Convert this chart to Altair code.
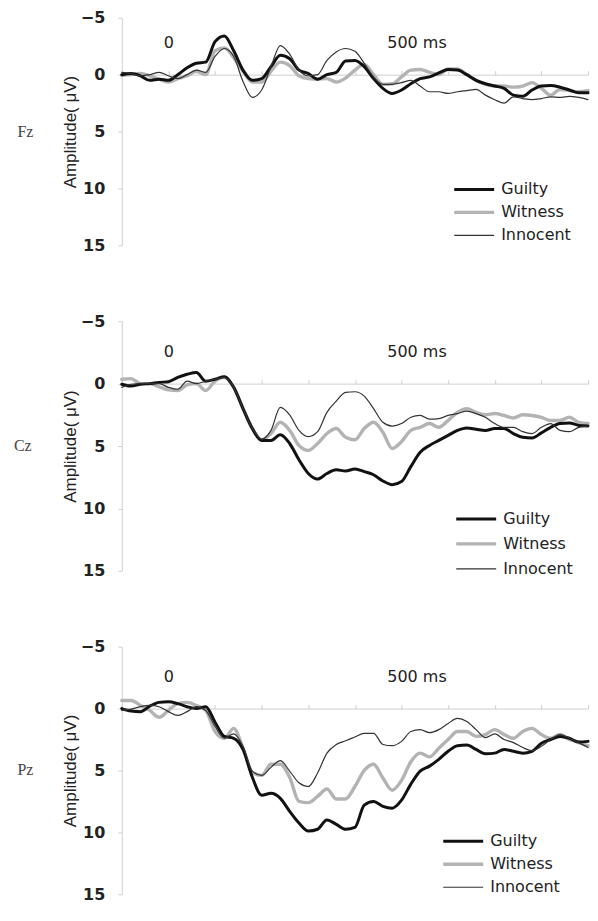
import altair as alt
import pandas as pd

times = [-100, -80, -60, -40, -20, 0, 20, 40, 60, 80,
         100, 120, 140, 160, 180, 200, 220, 240, 260, 280,
         300, 320, 340, 360, 380, 400, 420, 440, 460, 480,
         500, 520, 540, 560, 580, 600, 620, 640, 660, 680,
         700, 720, 740, 760, 780, 800, 820, 840, 860, 880, 900]

conditions = ["Guilty", "Witness", "Innocent"]
line_colors = ["#111111", "#b3b3b3", "#333333"]
line_widths = [3.0, 3.4, 1.2]

fz_guilty = [0, -0.1, 0.1, 0.5, 0.4, 0.5, 0, -0.6, -1.0, -1.1,
             -2.9, -3.4, -2.1, -0.4, 0.5, 0.35, -0.7, -1.7, -1.4, -0.4,
             -0.1, 0.4, 0, -0.2, -1.2, -1.25, -0.7, 0.35, 1.2, 1.65,
             1.35, 0.8, 0.35, 0.2, -0.15, -0.45, -0.4, 0, 0.5, 0.8,
             1.0, 1.2, 1.8, 1.9, 1.35, 1.0, 0.95, 1.1, 1.35, 1.6, 1.6]
fz_witness = [0.05, 0, -0.1, 0.1, 0.4, 0.65, 0.35, 0.1, -0.3, 0,
              -2.1, -2.35, -1.5, -0.3, 0.65, 0.65, -0.3, -1.1, -0.8, 0.1,
              0.35, 0.4, 0.35, 0.65, 0.3, -0.4, -0.9, 0, 0.85, 0.8,
              0.2, -0.4, -0.45, -0.2, 0, -0.5, -0.5, 0, 0.5, 0.85,
              1.0, 1.0, 1.1, 1.0, 0.7, 1.2, 1.8, 1.3, 1.4, 1.5, 1.4]
fz_innocent = [-0.2, -0.1, 0.1, 0, -0.2, 0.1, 0.35, 0, -0.4, -0.2,
               -1.6, -2.3, -1.6, 0.6, 2.0, 1.35, -0.7, -2.55, -1.8, -0.4,
               0.1, 0, -1.25, -2.0, -2.3, -2.05, -1.0, 0.2, 0.85, 0.85,
               0.7, 0.5, 1.0, 1.5, 1.5, 1.65, 1.5, 1.4, 1.3, 1.8,
               2.2, 2.5, 1.95, 2.1, 2.2, 2.1, 1.95, 2.0, 1.9, 2.0, 2.2]

cz_guilty = [0.05, 0.2, 0.05, 0, -0.1, -0.15, -0.5, -0.75, -0.9, -0.2,
             -0.35, -0.55, 0.3, 2.0, 3.6, 4.55, 4.55, 4.1, 4.8, 6.1,
             7.2, 7.65, 7.2, 6.9, 7.0, 6.85, 7.05, 7.3, 7.8, 8.1,
             7.85, 6.65, 5.5, 4.95, 4.55, 4.15, 3.75, 3.55, 3.65, 3.75,
             3.6, 3.6, 4.0, 4.3, 4.35, 3.95, 3.5, 3.2, 3.15, 3.35, 3.4]
cz_witness = [-0.35, -0.4, 0, 0, 0.25, 0.5, 0.55, 0.1, 0, 0.55,
              -0.2, -0.5, 0.3, 2.0, 3.6, 4.5, 4.0, 3.1, 3.75, 4.95,
              5.35, 4.8, 4.0, 3.6, 4.3, 4.5, 3.6, 3.1, 3.9, 5.2,
              4.65, 3.75, 3.5, 3.2, 3.5, 2.95, 2.3, 2.0, 2.3, 2.5,
              2.4, 2.55, 2.75, 2.5, 2.55, 2.7, 2.95, 2.95, 2.7, 3.1, 3.2]
cz_innocent = [0.3, 0.05, 0, 0, 0, 0.3, 0.45, -0.2, 0, -0.2,
               -0.35, -0.5, 0.3, 2.0, 3.6, 4.45, 3.75, 1.9, 2.5, 3.75,
               4.25, 3.85, 2.3, 1.4, 0.7, 0.65, 1.0, 2.0, 3.1, 3.4,
               3.2, 2.7, 2.55, 2.85, 2.8, 2.55, 2.4, 2.2, 2.4, 2.7,
               3.2, 3.5, 3.5, 3.85, 4.0, 3.5, 3.2, 3.75, 3.85, 3.5, 3.4]

pz_guilty = [0, 0.2, 0.25, -0.2, -0.5, -0.55, -0.4, -0.15, 0, -0.15,
             1.1, 2.25, 2.4, 3.3, 5.55, 7.0, 6.85, 7.25, 8.3, 9.25,
             9.9, 9.75, 9.0, 9.35, 9.75, 9.6, 7.8, 7.5, 7.9, 8.05,
             7.4, 6.1, 5.05, 4.65, 4.1, 3.45, 3.0, 2.95, 3.3, 3.65,
             3.6, 3.3, 3.45, 3.6, 3.45, 2.8, 2.5, 2.25, 2.4, 2.7, 2.65]
pz_witness = [-0.65, -0.65, -0.25, 0.15, 0.7, 0.15, -0.4, -0.5, -0.25, 0.15,
              1.85, 2.4, 1.6, 3.2, 5.15, 5.4, 4.5, 4.5, 5.55, 7.5,
              7.6, 7.1, 6.5, 7.3, 7.3, 6.3, 5.0, 4.5, 5.6, 6.6,
              5.8, 4.3, 3.6, 3.9, 3.2, 2.5, 1.85, 1.85, 2.25, 2.1,
              1.7, 2.1, 2.4, 1.85, 1.6, 2.1, 2.4, 2.1, 2.5, 2.75, 3.0]
pz_innocent = [0.15, 0.05, -0.15, -0.25, -0.15, 0.25, 0.55, 0.25, -0.15, 0.15,
               1.45, 2.4, 2.05, 3.05, 5.05, 5.4, 4.75, 4.2, 5.05, 6.0,
               6.3, 5.2, 3.6, 2.9, 2.6, 2.3, 2.0, 2.0, 2.9, 3.0,
               2.65, 1.85, 1.7, 1.95, 1.7, 1.2, 0.8, 1.05, 1.7, 2.35,
               2.05, 2.5, 2.75, 3.15, 3.4, 3.05, 2.5, 2.1, 2.4, 2.75, 3.15]

x_ticks = [-100, 0, 100, 200, 300, 400, 500, 600, 700, 800, 900]
y_ticks = [-5, 0, 5, 10, 15]

PLOT_W = 467


def panel(site, guilty, witness, innocent, height, lx, ly, row_pad):
    n = len(times)
    df = pd.DataFrame({
        "t": times * 3,
        "v": witness + guilty + innocent,
        "cond": ["Witness"] * n + ["Guilty"] * n + ["Innocent"] * n,
    })
    leg = alt.Legend(
        title=None, orient="none", legendX=lx, legendY=ly,
        symbolType="M-10,0H10", symbolSize=16,
        labelFont="DejaVu Sans", labelFontSize=16, labelColor="#222",
        labelOffset=19, rowPadding=row_pad, padding=0,
    )
    return alt.Chart(df).mark_line(
        interpolate="monotone", strokeJoin="round", strokeCap="round"
    ).encode(
        x=alt.X("t:Q",
                scale=alt.Scale(domain=[-100, 900], nice=False, zero=False),
                axis=alt.Axis(
                    orient="top", offset=-height / 4, values=x_ticks,
                    minExtent=0, maxExtent=0,
                    labelExpr="datum.value == 0 ? '0' : datum.value == 500 ? '500 ms' : ''",
                    labelFont="DejaVu Sans", labelFontSize=16, labelColor="#222",
                    labelPadding=20, labelOverlap=False, labelFlush=False,
                    labelOffset={"condition": {"test": "datum.value == 500", "value": 15}, "value": 0},
                    tickSize=4, tickColor="#cfcfcf", domainColor="#cfcfcf",
                    grid=False, title=None)),
        y=alt.Y("v:Q",
                scale=alt.Scale(domain=[-5, 15], reverse=True, nice=False, zero=False),
                axis=alt.Axis(
                    values=y_ticks, title="Amplitude( μV)",
                    titleFont="Liberation Sans", titleFontSize=17,
                    titleFontWeight="normal", titleColor="#222", titlePadding=1,
                    labelFont="DejaVu Sans", labelFontSize=16, labelFontWeight="bold",
                    labelColor="#222", labelPadding=13,
                    tickSize=4, tickColor="#d0d0d0", domainColor="#d0d0d0",
                    grid=False)),
        color=alt.Color("cond:N", scale=alt.Scale(domain=conditions, range=line_colors), legend=leg),
        strokeWidth=alt.StrokeWidth("cond:N",
                                    scale=alt.Scale(type="ordinal", domain=conditions, range=line_widths),
                                    legend=leg),
    ).properties(
        width=PLOT_W, height=height,
        title=alt.TitleParams(text=site, orient="left", angle=0, anchor="middle",
                              align="right", baseline="middle",
                              font="Liberation Serif", fontSize=16, fontWeight="normal",
                              color="#444", offset=12),
    )


fz = panel("Fz", fz_guilty, fz_witness, fz_innocent, 228, 345, 164, 7)
cz = panel("Cz", cz_guilty, cz_witness, cz_innocent, 250, 347, 190, 9)
pz = panel("Pz", pz_guilty, pz_witness, pz_innocent, 248, 334, 187, 7)

chart = alt.vconcat(fz, cz, pz, spacing=60).resolve_scale(
    color="independent", strokeWidth="independent"
).properties(
    padding={"left": 5, "top": 1, "right": 0, "bottom": 0}
).configure_view(stroke=None)

chart.save("out.html", embed_options={"renderer": "svg", "actions": False})
